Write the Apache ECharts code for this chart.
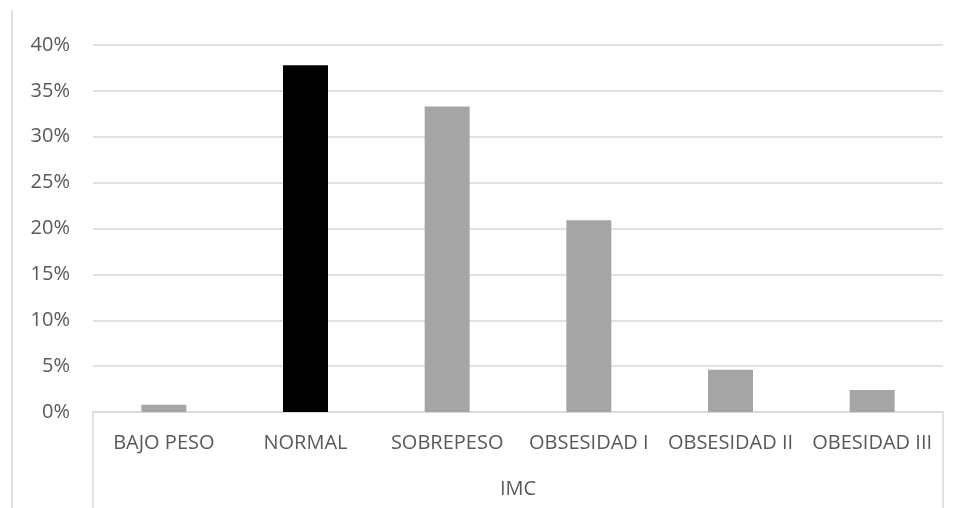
<!DOCTYPE html>
<html>
<head>
<meta charset="utf-8">
<script src="https://cdn.jsdelivr.net/npm/echarts@6/dist/echarts.min.js"></script>
<style>
  html, body { margin: 0; padding: 0; background: #fff; }
  #imc-chart { width: 965px; height: 508px; }
</style>
</head>
<body>
<div id="imc-chart"></div>
<script>
  const categories = ['BAJO PESO', 'NORMAL', 'SOBREPESO', 'OBSESIDAD I', 'OBSESIDAD II', 'OBESIDAD III'];
  const percentValues = [0.8, 37.8, 33.3, 20.9, 4.6, 2.4];
  const barColors = ['#a5a5a5', '#000000', '#a5a5a5', '#a5a5a5', '#a5a5a5', '#a5a5a5'];
  const groupLabels = ['IMC'];

  const textColor = '#595959';
  const lineColor = '#d9d9d9';
  const fontFamily = '"Open Sans", "Liberation Sans", sans-serif';

  const chart = echarts.init(document.getElementById('imc-chart'));

  chart.setOption({
    animation: false,
    grid: {
      left: 93,
      right: 22,
      top: 45,
      bottom: 96,
      containLabel: false
    },
    graphic: [
      {
        type: 'line',
        shape: {x1: 12, y1: 10, x2: 12, y2: 508},
        style: {stroke: lineColor, lineWidth: 1.5}
      }
    ],
    xAxis: [
      {
        type: 'category',
        data: categories,
        position: 'bottom',
        axisLine: {show: false},
        axisTick: {show: false},
        axisLabel: {
          interval: 0,
          margin: 21,
          color: textColor,
          fontSize: 20,
          fontFamily: fontFamily
        }
      },
      {
        type: 'category',
        data: groupLabels,
        position: 'bottom',
        axisLine: {show: true, lineStyle: {color: lineColor, width: 1.5}},
        axisTick: {show: true, length: 100, lineStyle: {color: lineColor, width: 1.5}},
        axisLabel: {
          margin: 67,
          color: textColor,
          fontSize: 20,
          fontFamily: fontFamily
        }
      }
    ],
    yAxis: {
      type: 'value',
      min: 0,
      max: 40,
      interval: 5,
      axisLine: {show: false},
      axisTick: {show: false},
      axisLabel: {
        formatter: '{value}%',
        margin: 23,
        color: textColor,
        fontSize: 20,
        fontFamily: fontFamily
      },
      splitLine: {lineStyle: {color: lineColor, width: 1.5}}
    },
    series: [
      {
        type: 'bar',
        xAxisIndex: 0,
        barWidth: 45,
        data: percentValues.map((v, i) => ({
          value: v,
          itemStyle: {color: barColors[i]}
        }))
      }
    ]
  });
</script>
</body>
</html>
